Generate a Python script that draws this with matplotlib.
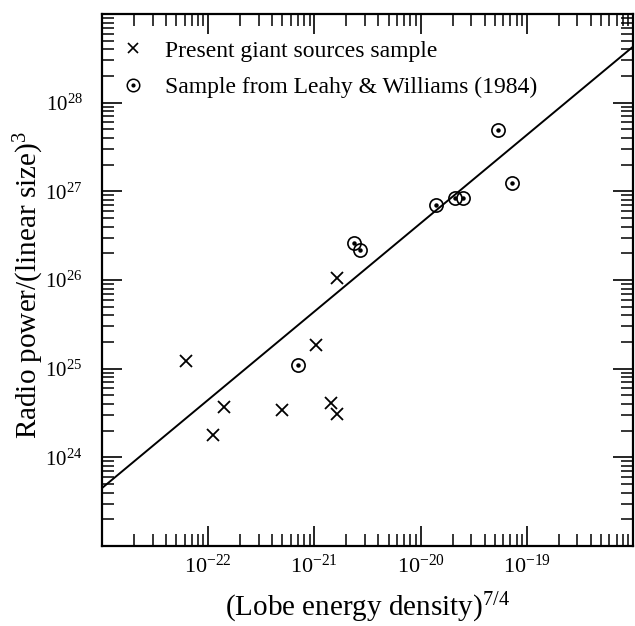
import matplotlib
matplotlib.use("Agg")
import matplotlib.pyplot as plt
from matplotlib.lines import Line2D
from matplotlib.legend_handler import HandlerTuple
from matplotlib.ticker import LogLocator, FuncFormatter, NullFormatter
import numpy as np

plt.rcParams['font.family'] = ['Liberation Serif', 'DejaVu Serif']
plt.rcParams['mathtext.fontset'] = 'custom'
plt.rcParams['mathtext.rm'] = 'Liberation Serif'
plt.rcParams['mathtext.it'] = 'Liberation Serif:italic'
plt.rcParams['mathtext.bf'] = 'Liberation Serif:bold'

# Present giant sources sample (crosses)
giant_x = [6.2e-23, 1.03e-21, 1.40e-22, 4.95e-22, 1.42e-21, 1.63e-21, 1.12e-22, 1.63e-21]
giant_y = [1.22e25, 1.85e25, 3.72e24, 3.39e24, 4.13e24, 3.06e24, 1.80e24, 1.06e26]

# Sample from Leahy & Williams (1984) (dotted circles)
lw_x = [7.08e-22, 2.36e-21, 2.68e-21, 1.41e-20, 2.09e-20, 2.51e-20, 5.32e-20, 7.21e-20]
lw_y = [1.10e25, 2.64e26, 2.20e26, 7.01e26, 8.47e26, 8.41e26, 4.92e27, 1.25e27]

# Fitted line (end points)
fit_x = [1e-23, 1e-18]
fit_y = [4.5e23, 4.28e28]

xt_shown = [1e-22, 1e-21, 1e-20, 1e-19]
yt_shown = [1e24, 1e25, 1e26, 1e27, 1e28]

fig = plt.figure(figsize=(6.35, 6.26), dpi=100)
ax = fig.add_axes([102/635, 80/626, 531/635, 532/626])

ax.set_xscale('log')
ax.set_yscale('log')
ax.set_xlim(1e-23, 1e-18)
ax.set_ylim(1e23, 1e29)

ax.plot(fit_x, fit_y, color='black', lw=1.4, zorder=2)
ax.plot(giant_x, giant_y, linestyle='none', marker='x', ms=8, mew=1.3, color='black', zorder=3)
ax.plot(lw_x, lw_y, linestyle='none', marker='o', ms=9.5, mfc='none', mec='black', mew=1.2, zorder=3)
ax.plot(lw_x, lw_y, linestyle='none', marker='o', ms=2.2, mfc='black', mec='black', zorder=3)


def sci(v):
    e = int(round(np.log10(v)))
    if e < 0:
        return r'$\mathregular{10^{-%d}}$' % (-e)
    return r'$\mathregular{10^{%d}}$' % e


def make_fmt(shown):
    def f(v, pos):
        if any(abs(np.log10(v) - np.log10(t)) < 1e-6 for t in shown):
            return sci(v)
        return ''
    return f


ax.xaxis.set_major_locator(LogLocator(base=10, numticks=20))
ax.yaxis.set_major_locator(LogLocator(base=10, numticks=20))
ax.xaxis.set_minor_locator(LogLocator(base=10, subs=np.arange(2, 10), numticks=20))
ax.yaxis.set_minor_locator(LogLocator(base=10, subs=np.arange(2, 10), numticks=20))
ax.xaxis.set_major_formatter(FuncFormatter(make_fmt(xt_shown)))
ax.yaxis.set_major_formatter(FuncFormatter(make_fmt(yt_shown)))
ax.xaxis.set_minor_formatter(NullFormatter())
ax.yaxis.set_minor_formatter(NullFormatter())

ax.tick_params(which='both', direction='in', top=True, right=True, color='black')
ax.tick_params(which='major', length=14.5, width=1.2)
ax.tick_params(axis='x', which='major', pad=6, labelsize=16)
ax.tick_params(axis='y', which='major', pad=14, labelsize=15)
ax.tick_params(which='minor', length=8.5, width=1.1)
for s in ax.spines.values():
    s.set_linewidth(1.6)

ax.set_xlabel(r'(Lobe energy density)$^{\mathregular{7/4}}$', fontsize=21, labelpad=9.5)
ax.set_ylabel(r'Radio power/(linear size)$^{\mathregular{3}}$', fontsize=21)
ax.yaxis.set_label_coords(-0.106, 0.49)

h1 = Line2D([], [], linestyle='none', marker='x', ms=7, mew=1.2, color='black')
h2a = Line2D([], [], linestyle='none', marker='o', ms=9, mfc='none', mec='black', mew=1.1)
h2b = Line2D([], [], linestyle='none', marker='o', ms=2.0, mfc='black', mec='black')
leg = ax.legend([h1, (h2a, h2b)],
                ['Present giant sources sample', 'Sample from Leahy & Williams (1984)'],
                handler_map={tuple: HandlerTuple(ndivide=1, pad=0)},
                loc='upper left', bbox_to_anchor=(0.0075, 0.98), frameon=False,
                fontsize=17, handlelength=1.0, handletextpad=0.85,
                labelspacing=0.63, borderaxespad=0.45, borderpad=0.2)

fig.savefig('out.png', dpi=100)
